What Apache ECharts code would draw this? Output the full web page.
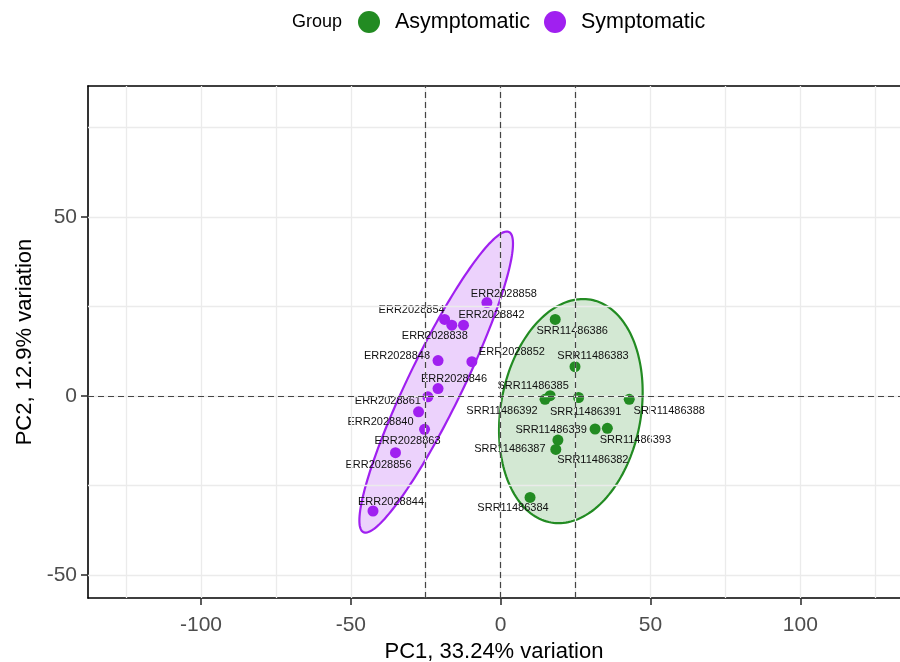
<!DOCTYPE html>
<html>
<head>
<meta charset="utf-8">
<script src="https://cdn.jsdelivr.net/npm/echarts@6/dist/echarts.min.js"></script>
<style>
  html, body { margin: 0; padding: 0; background: #ffffff; }
  #chart { width: 900px; height: 662px; }
</style>
</head>
<body>
<div id="chart"></div>
<script>
// PCA scores per sample, grouped by clinical status
const asymNames = ['SRR11486386', 'SRR11486383', 'SRR11486385', 'SRR11486392', 'SRR11486391', 'SRR11486388',
                   'SRR11486389', 'SRR11486393', 'SRR11486387', 'SRR11486382', 'SRR11486384'];
const asymPC1 = [18.2, 24.8, 16.5, 14.8, 26.0, 42.9, 31.5, 35.6, 19.1, 18.4, 9.8];
const asymPC2 = [21.4, 8.2, 0.1, -0.9, -0.4, -0.9, -9.2, -9.0, -12.3, -14.9, -28.3];

const symNames = ['ERR2028858', 'ERR2028854', 'ERR2028838', 'ERR2028842', 'ERR2028843', 'ERR2028852',
                  'ERR2028846', 'ERR2028861', 'ERR2028840', 'ERR2028863', 'ERR2028856', 'ERR2028844'];
const symPC1 = [-4.6, -18.7, -16.3, -12.4, -20.9, -9.6, -20.9, -24.3, -27.4, -25.4, -35.1, -42.6];
const symPC2 = [26.1, 21.4, 19.8, 19.8, 9.9, 9.6, 2.1, -0.2, -4.4, -9.3, -15.8, -32.1];

// Axis ticks and reference lines
const xTicks = [-100, -50, 0, 50, 100];
const yTicks = [-50, 0, 50];
const xMinorGrid = [-125, -75, -25, 25, 75, 125];
const yMinorGrid = [-25, 25, 75];
const pc1Cutoffs = [-25, 0, 25];
const pc2Cutoffs = [0];

// Label nudges in pixels (repelled text placement)
const asymLabelNudge = [[17, 12], [18, -11], [-17, -10], [-43, 12], [7, 14], [40, 12],
                        [-44, 1], [28, 12], [-48, 9], [37, 11], [-17, 11]];
const symLabelNudge = [[17, -9], [-33, -9], [-17, 11], [28, -10], [-41, -5], [40, -10],
                       [16, -10], [-40, 4], [-38, 10], [-17, 12], [-17, 12], [18, -9]];

const GREEN = '#228B22';
const PURPLE = '#A020F0';
const FONT = "'Liberation Sans', Arial, Helvetica, sans-serif";
const ellipseScale = 2.42;

// Confidence ellipse outline from the sample covariance of a group
function ellipseOutline(xs, ys, k, steps) {
  const n = xs.length;
  const mx = xs.reduce((a, b) => a + b, 0) / n;
  const my = ys.reduce((a, b) => a + b, 0) / n;
  let sxx = 0, syy = 0, sxy = 0;
  for (let i = 0; i < n; i++) {
    const dx = xs[i] - mx, dy = ys[i] - my;
    sxx += dx * dx; syy += dy * dy; sxy += dx * dy;
  }
  sxx /= (n - 1); syy /= (n - 1); sxy /= (n - 1);
  const a = Math.sqrt(sxx);
  const b = sxy / a;
  const c = Math.sqrt(Math.max(syy - b * b, 0));
  const pts = [];
  for (let i = 0; i < steps; i++) {
    const t = 2 * Math.PI * i / steps;
    const u = Math.cos(t), v = Math.sin(t);
    pts.push([mx + k * a * u, my + k * (b * u + c * v)]);
  }
  return pts;
}

function scatterData(names, xs, ys, nudges) {
  return names.map((nm, i) => ({
    name: nm,
    value: [xs[i], ys[i]],
    label: { offset: nudges[i] }
  }));
}

function ellipseSeries(id, xs, ys, color, fill) {
  const outline = ellipseOutline(xs, ys, ellipseScale, 180);
  return {
    type: 'custom',
    name: id,
    silent: true,
    z: 2,
    data: [[0, 0]],
    renderItem: (params, api) => ({
      type: 'polygon',
      shape: { points: outline.map(p => api.coord(p)) },
      style: { fill: fill, stroke: color, lineWidth: 2.2 }
    })
  };
}

const xMin = -137.7, xMax = 133.25;

const chart = echarts.init(document.getElementById('chart'), null, { renderer: 'canvas' });

const pointLabel = {
  show: true, position: 'inside', formatter: '{b}',
  fontSize: 11, color: '#111', opacity: 1, fontFamily: FONT
};

const option = {
  animation: false,
  backgroundColor: '#ffffff',
  textStyle: { fontFamily: FONT },
  graphic: [{
    type: 'text',
    left: 292, top: 13,
    style: { text: 'Group', fontSize: 18, fontFamily: FONT, fill: '#000' }
  }],
  legend: {
    data: [
      { name: 'Asymptomatic', icon: 'circle', itemStyle: { color: GREEN, opacity: 1 } },
      { name: 'Symptomatic', icon: 'circle', itemStyle: { color: PURPLE, opacity: 1 } }
    ],
    left: 353, top: 6,
    itemWidth: 22, itemHeight: 22, itemGap: 14,
    selectedMode: false,
    textStyle: { fontSize: 21.5, color: '#000', fontFamily: FONT, padding: [0, 0, 0, 10] }
  },
  grid: { left: 88, right: 0, top: 86, bottom: 64, containLabel: false, outerBoundsMode: 'none' },
  xAxis: [{
    type: 'value', min: xMin, max: xMax, position: 'bottom',
    name: 'PC1, 33.24% variation', nameLocation: 'middle', nameGap: 41,
    nameTextStyle: { fontSize: 22, color: '#000', fontFamily: FONT },
    axisLine: { onZero: false, lineStyle: { color: '#000', width: 1.6 } },
    axisTick: { show: true, customValues: xTicks, length: 7, lineStyle: { color: '#333', width: 1.6 } },
    axisLabel: { customValues: xTicks, fontSize: 21, color: '#4d4d4d', margin: 17, fontFamily: FONT },
    splitLine: { show: false }
  }, {
    type: 'value', min: xMin, max: xMax, position: 'top',
    axisLine: { onZero: false, lineStyle: { color: '#000', width: 1.6 } },
    axisTick: { show: false }, axisLabel: { show: false }, splitLine: { show: false }
  }],
  yAxis: {
    type: 'value', min: -56.4, max: 86.6,
    name: 'PC2, 12.9% variation', nameLocation: 'middle', nameGap: 52,
    nameTextStyle: { fontSize: 22, color: '#000', fontFamily: FONT },
    axisLine: { onZero: false, lineStyle: { color: '#000', width: 1.6 } },
    axisTick: { show: true, customValues: yTicks, length: 7, lineStyle: { color: '#333', width: 1.6 } },
    axisLabel: { customValues: yTicks, fontSize: 21, color: '#4d4d4d', margin: 11, fontFamily: FONT },
    splitLine: { show: false }
  },
  series: [
    {
      // background grid lines
      type: 'scatter', name: 'grid', data: [], silent: true, z: 1,
      markLine: {
        silent: true, symbol: 'none', label: { show: false }, animation: false,
        lineStyle: { color: '#ebebeb', width: 1.3, type: 'solid' },
        data: xTicks.concat(xMinorGrid).map(v => ({ xAxis: v }))
          .concat(yTicks.concat(yMinorGrid).map(v => ({ yAxis: v })))
      }
    },
    ellipseSeries('Asymptomatic ellipse', asymPC1, asymPC2, GREEN, 'rgba(34,139,34,0.2)'),
    ellipseSeries('Symptomatic ellipse', symPC1, symPC2, PURPLE, 'rgba(160,32,240,0.2)'),
    {
      // cutoff reference lines
      type: 'scatter', name: 'cutoffs', data: [], silent: true, z: 3,
      markLine: {
        silent: true, symbol: 'none', label: { show: false }, animation: false,
        lineStyle: { color: '#444', width: 1.2, type: [6, 4] },
        data: pc1Cutoffs.map(v => ({ xAxis: v })).concat(pc2Cutoffs.map(v => ({ yAxis: v })))
      }
    },
    {
      type: 'scatter', name: 'Asymptomatic', z: 4,
      symbol: 'circle', symbolSize: 11,
      itemStyle: { color: GREEN, opacity: 1 },
      label: pointLabel,
      data: scatterData(asymNames, asymPC1, asymPC2, asymLabelNudge)
    },
    {
      type: 'scatter', name: 'Symptomatic', z: 4,
      symbol: 'circle', symbolSize: 11,
      itemStyle: { color: PURPLE, opacity: 1 },
      label: pointLabel,
      data: scatterData(symNames, symPC1, symPC2, symLabelNudge)
    }
  ]
};

chart.setOption(option);
</script>
</body>
</html>
